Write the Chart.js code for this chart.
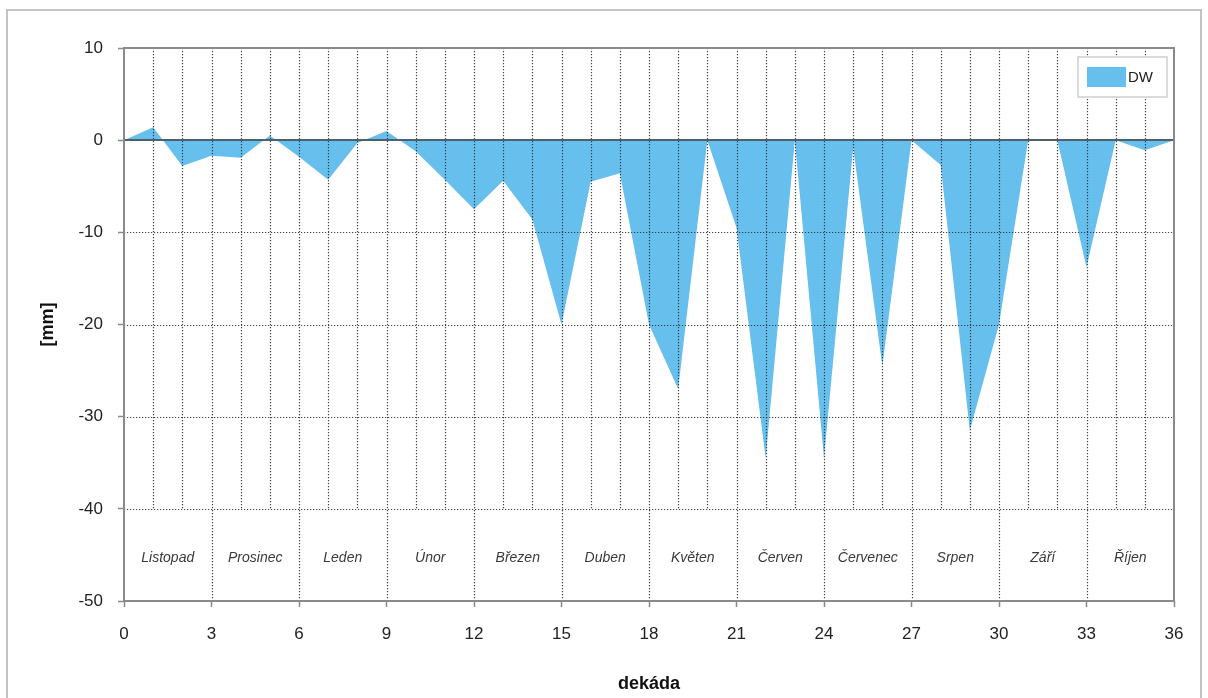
<!DOCTYPE html>
<html>
<head>
<meta charset="utf-8">
<script src="https://cdn.jsdelivr.net/npm/chart.js@4/dist/chart.umd.min.js"></script>
<style>
    body { margin: 0; background: #fff; }
    #wrap { width: 1208px; height: 698px; }
</style>
</head>
<body>
<div id="wrap"><canvas id="dw-chart" width="1208" height="698"></canvas></div>
<script>
// dekády hydrologického roku a deficit DW [mm]
const dekady = [0, 1, 2, 3, 4, 5, 6, 7, 8, 9, 10, 11, 12, 13, 14, 15, 16, 17, 18,
    19, 20, 21, 22, 23, 24, 25, 26, 27, 28, 29, 30, 31, 32, 33, 34, 35, 36];
const dw = [0, 1.4, -2.8, -1.7, -1.9, 0.5, -1.8, -4.3, -0.3, 1.0, -1.2, -4.3, -7.5,
    -4.4, -8.6, -20, -4.5, -3.6, -20, -27, 0, -9.5, -34.5, 0, -34.5, -0.8, -24.5,
    0, -2.7, -31.5, -20, 0, 0, -13.8, 0, -1.1, 0];
const mesice = ['Listopad', 'Prosinec', 'Leden', 'Únor', 'Březen', 'Duben',
    'Květen', 'Červen', 'Červenec', 'Srpen', 'Září', 'Říjen'];
const yTicks = [10, 0, -10, -20, -30, -40, -50];

const FONT = '"Liberation Sans", Arial, sans-serif';
const BLUE = '#66bfec';
const GRID = 'rgba(45,45,45,0.9)';

// tečkovaná mřížka, názvy měsíců, nulová linie, rámeček a legenda
const decorPlugin = {
    id: 'decor',
    afterDraw(chart) {
        const ctx = chart.ctx;
        const x = chart.scales.x, y = chart.scales.y;
        const area = chart.chartArea;

        ctx.save();
        ctx.strokeStyle = GRID;
        ctx.lineWidth = 1.2;
        ctx.setLineDash([1.2, 1.8]);
        dekady.forEach(d => {
            if (d === 0 || d === 36) return;
            const px = Math.round(x.getPixelForValue(d)) + 0.5;
            const bottom = d % 3 === 0 ? y.getPixelForValue(-50) : y.getPixelForValue(-40);
            ctx.beginPath();
            ctx.moveTo(px, y.getPixelForValue(10));
            ctx.lineTo(px, bottom);
            ctx.stroke();
        });
        yTicks.forEach(v => {
            if (v === 10 || v === 0 || v === -50) return;
            const py = Math.round(y.getPixelForValue(v)) + 0.5;
            ctx.beginPath();
            ctx.moveTo(area.left, py);
            ctx.lineTo(area.right, py);
            ctx.stroke();
        });
        ctx.setLineDash([]);

        // názvy měsíců
        ctx.fillStyle = '#3a3a3a';
        ctx.font = 'italic 14px ' + FONT;
        ctx.textAlign = 'center';
        ctx.textBaseline = 'middle';
        mesice.forEach((m, i) => {
            const cx = (x.getPixelForValue(i * 3) + x.getPixelForValue(i * 3 + 3)) / 2;
            ctx.fillText(m, cx, y.getPixelForValue(-45) + 3);
        });

        // nulová linie
        const y0 = Math.round(y.getPixelForValue(0));
        ctx.strokeStyle = '#4f5f6c';
        ctx.lineWidth = 2;
        ctx.beginPath();
        ctx.moveTo(area.left, y0);
        ctx.lineTo(area.right, y0);
        ctx.stroke();

        // rámeček grafu
        ctx.strokeStyle = '#8a8a8a';
        ctx.lineWidth = 2;
        ctx.strokeRect(area.left, area.top, area.right - area.left, area.bottom - area.top);

        // legenda
        const ds = chart.data.datasets[0];
        ctx.fillStyle = '#fff';
        ctx.fillRect(1078, 57, 89, 40);
        ctx.strokeStyle = '#cfcfcf';
        ctx.lineWidth = 1.5;
        ctx.strokeRect(1078, 57, 89, 40);
        ctx.fillStyle = ds.backgroundColor;
        ctx.fillRect(1087, 67, 39, 20);
        ctx.fillStyle = '#222';
        ctx.font = '15px ' + FONT;
        ctx.textAlign = 'left';
        ctx.fillText(ds.label, 1128, 78);

        // okraj obrázku
        ctx.strokeStyle = '#c4c4c4';
        ctx.lineWidth = 2;
        ctx.strokeRect(7, 10, 1194, 700);
        ctx.restore();
    }
};

new Chart(document.getElementById('dw-chart'), {
    type: 'line',
    data: {
        datasets: [{
            label: 'DW',
            data: dekady.map((d, i) => ({x: d, y: dw[i]})),
            backgroundColor: BLUE,
            borderWidth: 0,
            pointRadius: 0,
            fill: 'origin',
            tension: 0
        }]
    },
    options: {
        responsive: false,
        animation: false,
        layout: {padding: {top: 48, right: 34, bottom: 0, left: 0}},
        plugins: {
            legend: {display: false},
            tooltip: {enabled: false}
        },
        scales: {
            x: {
                type: 'linear',
                min: 0,
                max: 36,
                afterFit(scale) { scale.height = 97; },
                border: {display: false},
                grid: {drawOnChartArea: false, drawTicks: true, tickLength: 6, tickColor: '#8a8a8a', tickWidth: 1.5},
                ticks: {stepSize: 3, padding: 17, color: '#222', font: {family: FONT, size: 17}},
                title: {display: true, text: 'dekáda', color: '#111', padding: {top: 0, bottom: 3},
                    font: {family: FONT, size: 18, weight: 'bold'}}
            },
            y: {
                min: -50,
                max: 10,
                afterFit(scale) { scale.width = 124; },
                afterBuildTicks(scale) { scale.ticks = yTicks.map(v => ({value: v})); },
                border: {display: false},
                grid: {drawOnChartArea: false, drawTicks: true, tickColor: '#8a8a8a', tickLength: 6, tickWidth: 1.5},
                ticks: {padding: 15, color: '#222', font: {family: FONT, size: 17}},
                title: {display: true, text: '[mm]', color: '#111', padding: {top: 37, bottom: 0},
                    font: {family: FONT, size: 18, weight: 'bold'}}
            }
        }
    },
    plugins: [decorPlugin]
});
</script>
</body>
</html>
